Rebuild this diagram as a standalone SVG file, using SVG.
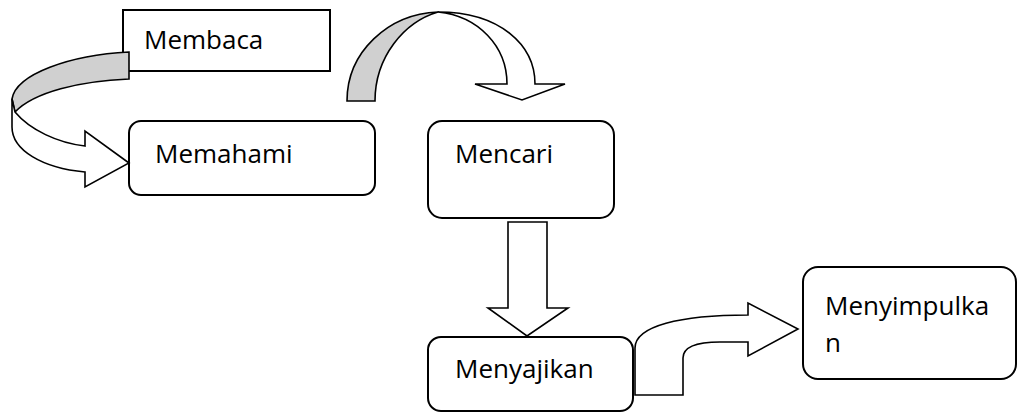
<svg xmlns="http://www.w3.org/2000/svg" width="1018" height="413" viewBox="0 0 1018 413">
<style>
.box{fill:#fff;stroke:#000;stroke-width:2}
.arr{fill:#fff;stroke:#000;stroke-width:1.6;stroke-linejoin:miter}
.back{fill:#d0d0d0;stroke:#000;stroke-width:1.6}
.lbl{font-family:"Open Sans","Noto Sans",sans-serif;font-size:26px;fill:#000}
</style>
<rect width="1018" height="413" fill="#fff"/>
<g id="node-membaca">
<rect class="box" x="123" y="10" width="207" height="61"/>
<text class="lbl" x="144" y="49">Membaca</text>
</g>
<g id="node-memahami">
<rect class="box" x="129" y="121" width="246" height="74" rx="12"/>
<text class="lbl" x="155" y="163">Memahami</text>
</g>
<g id="node-mencari">
<rect class="box" x="428" y="121" width="186" height="97" rx="14"/>
<text class="lbl" x="455" y="163">Mencari</text>
</g>
<g id="node-menyajikan">
<rect class="box" x="428" y="337" width="205" height="74" rx="13"/>
<text class="lbl" x="455" y="378">Menyajikan</text>
</g>
<g id="node-menyimpulkan">
<rect class="box" x="803" y="267" width="213" height="112" rx="15"/>
<text class="lbl" x="825" y="315">Menyimpulka</text>
<text class="lbl" x="825" y="352">n</text>
</g>
<g id="connectors">
<path class="back" d="M129,52 C70,55 16,74 12,99 L15,112 C34,92 80,81 129,79 Z"/>
<path class="arr" d="M15,112 C30,130 58,143 85,146 L85,131 L129,163 L85,187 L85,172 C42,168 12,150 12,127 L12,99 Z"/>
<path class="back" d="M347,101 C347,52 388,14 438,12 C404,22 375,57 375,101 Z"/>
<path class="arr" d="M438,12 C500,12 535,45 535,84 L565,84 L522,100 L475,84 L507,84 C507,46 478,16 438,12 Z"/>
<path class="arr" d="M508,222 L547,222 L547,308 L568,308 L527,336 L488,308 L508,308 Z"/>
<path class="arr" d="M635,395 L635,348 C635,326 680,315 748,315 L748,303 L798,329 L748,356 L748,342 L720,342 C700,342 683,345 683,358 L683,395 Z"/>
</g>
</svg>
